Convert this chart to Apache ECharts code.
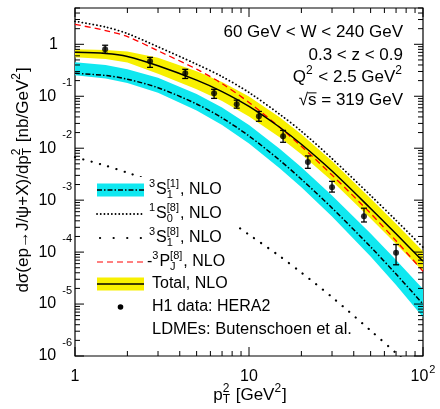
<!DOCTYPE html>
<html>
<head>
<meta charset="utf-8">
<script src="https://cdn.jsdelivr.net/npm/echarts@6.0.0/dist/echarts.min.js"></script>
<style>
html, body { margin: 0; padding: 0; background: #fff; }
#chart { width: 440px; height: 409px; }
</style>
</head>
<body>
<div id="chart"></div>
<script>
const FONT = '"Liberation Sans", Arial, sans-serif';

// pT^2 points the curves were read at [GeV^2]
const pt2 = [1, 1.5, 2, 3, 5, 7, 10, 15, 20, 30, 50, 70, 100];

// 3S1[1] colour singlet, NLO (line + uncertainty band)
const s1Singlet    = [0.277, 0.251, 0.213, 0.146, 0.0711, 0.0383, 0.0172, 5.88e-3, 2.53e-3, 7.08e-4, 1.26e-4, 3.78e-5, 1.0e-5];
const s1SingletUp  = [0.451, 0.400, 0.332, 0.227, 0.111, 0.0609, 0.0279, 9.78e-3, 4.31e-3, 1.23e-3, 2.29e-4, 7.02e-5, 1.94e-5];
const s1SingletLow = [0.253, 0.220, 0.179, 0.117, 0.0533, 0.0281, 0.0123, 4.13e-3, 1.78e-3, 4.86e-4, 8.27e-5, 2.32e-5, 5.6e-6];

// colour octet pieces
const s0Octet = [2.77, 2.15, 1.61, 0.895, 0.414, 0.239, 0.118, 0.0451, 0.0212, 6.31e-3, 1.23e-3, 4.09e-4, 1.24e-4];
const s1Octet = [6.71e-3, 4.61e-3, 3.38e-3, 2.08e-3, 9.15e-4, 4.92e-4, 2.17e-4, 8.38e-5, 4.03e-5, 1.36e-5, 3.09e-6, 1.14e-6, 3.95e-7];
const pjOctet = [2.42, 1.84, 1.41, 0.750, 0.332, 0.175, 0.076, 0.0253, 0.0109, 3.04e-3, 5.55e-4, 1.65e-4, 4.27e-5]; // minus sign

// total NLO + band
const total    = [0.702, 0.665, 0.583, 0.386, 0.204, 0.123, 0.0636, 0.0253, 0.0119, 3.63e-3, 6.92e-4, 2.25e-4, 6.65e-5];
const totalUp  = [0.801, 0.777, 0.727, 0.550, 0.304, 0.188, 0.0991, 0.0395, 0.0186, 5.65e-3, 1.08e-3, 3.50e-4, 1.04e-4];
const totalLow = [0.562, 0.522, 0.447, 0.271, 0.137, 0.0808, 0.0409, 0.0163, 7.67e-3, 2.33e-3, 4.45e-4, 1.44e-4, 4.27e-5];

// H1 data, HERA2
const h1X   = [1.49, 2.7, 4.3, 6.3, 8.5, 11.4, 15.7, 21.8, 30, 45.8, 70];
const h1Y   = [0.80, 0.47, 0.277, 0.114, 0.070, 0.041, 0.0169, 5.4e-3, 1.78e-3, 4.9e-4, 9.7e-5];
const h1Up  = [0.96, 0.56, 0.33, 0.136, 0.084, 0.051, 0.022, 7.1e-3, 2.3e-3, 7.0e-4, 1.4e-4];
const h1Low = [0.67, 0.36, 0.22, 0.091, 0.059, 0.033, 0.013, 4.1e-3, 1.43e-3, 3.8e-4, 5.7e-5];

// axis ranges
const xRange = [1, 100];
const yRange = [1e-6, 5];

// log tick marks: [value, isMajor]
function decadeTicks(e0, e1, top) {
	let out = [];
	for (let e = e0; e <= e1; e++) {
		for (let m = 1; m <= 9; m++) {
			let v = m * Math.pow(10, e);
			if (v > top) break;
			out.push([v, m === 1 ? 1 : 0]);
		}
	}
	return out;
}
const xTicks = decadeTicks(0, 2, 100);
const yTicks = decadeTicks(-6, 0, 5);

const chart = echarts.init(document.getElementById('chart'));

// --- little latex-ish text builder for graphic labels
const meas = document.createElement('canvas').getContext('2d');
function textWidth(t, size) {
	meas.font = size + 'px ' + FONT;
	return meas.measureText(t).width;
}

function latex(parts, size) {
	let small = Math.round(size * 0.7);
	let kids = [];
	let x = 0;
	let put = (t, sz, dy) => {
		kids.push({type: 'text', x: x, y: dy, z: 101,
			style: {text: t, fontSize: sz, fontFamily: FONT, fill: '#000', verticalAlign: 'middle'}});
		return textWidth(t, sz);
	};
	for (let p of parts) {
		if (typeof p === 'string') { x += put(p, size, 0); continue; }
		if (p.over) {
			let w = put(p.over, size, 0);
			kids.push({type: 'line', z: 101, shape: {x1: x, y1: -size * 0.42, x2: x + w, y2: -size * 0.42},
				style: {stroke: '#000', lineWidth: 1}});
			x += w;
			continue;
		}
		let w = 0;
		if (p.sup) w = Math.max(w, put(p.sup, small, -size * 0.38));
		if (p.sub) w = Math.max(w, put(p.sub, small, size * 0.3));
		x += w + 1;
	}
	return {kids, width: x};
}

function textGroup(parts, size, x, y, align, rotation) {
	let t = latex(parts, size);
	let off = align === 'right' ? -t.width : align === 'center' ? -t.width / 2 : 0;
	for (let k of t.kids) {
		if (k.type === 'text') k.x += off;
		else { k.shape.x1 += off; k.shape.x2 += off; }
	}
	return {type: 'group', x: x, y: y, rotation: rotation || 0, children: t.kids};
}

// --- series helpers
function pairs(xs, ys) {
	return xs.map((x, i) => [x, ys[i]]);
}

function bandSeries(up, low, color) {
	return {
		type: 'custom', clip: true, silent: true, z: 1,
		data: pairs(pt2, up),
		renderItem: (params, api) => {
			if (params.dataIndex > 0) return null;
			let pts = pt2.map((x, i) => api.coord([x, up[i]]))
				.concat(pt2.map((x, i) => api.coord([x, low[i]])).reverse());
			return {type: 'polygon', shape: {points: pts}, style: {fill: color}};
		}
	};
}

function curve(ys, color, type, width, cap) {
	return {
		type: 'line', data: pairs(pt2, ys), symbol: 'none', smooth: 0.3,
		silent: true, z: 3,
		lineStyle: {color: color, type: type, width: width, cap: cap || 'butt'}
	};
}

function tickSeries(ticks, isX) {
	return {
		type: 'custom', silent: true, z: 5, clip: false,
		data: ticks.map(t => isX ? [t[0], 1, t[1]] : [1, t[0], t[1]]),
		encode: {x: 0, y: 1},
		renderItem: (params, api) => {
			let cs = params.coordSys;
			let len = api.value(2) ? 9 : 5;
			let st = {stroke: '#000', lineWidth: 1};
			if (isX) {
				let x = api.coord([api.value(0), 1])[0];
				return {type: 'group', children: [
					{type: 'line', shape: {x1: x, y1: cs.y + cs.height, x2: x, y2: cs.y + cs.height - len}, style: st},
					{type: 'line', shape: {x1: x, y1: cs.y, x2: x, y2: cs.y + len}, style: st}
				]};
			}
			let y = api.coord([1, api.value(1)])[1];
			return {type: 'group', children: [
				{type: 'line', shape: {x1: cs.x, y1: y, x2: cs.x + len, y2: y}, style: st},
				{type: 'line', shape: {x1: cs.x + cs.width, y1: y, x2: cs.x + cs.width - len, y2: y}, style: st}
			]};
		}
	};
}

function expOf(v) {
	return Math.round(Math.log10(v));
}

// --- legend (drawn by hand, ROOT style box)
const LX0 = 97, LX1 = 144, TX = 149;
const legendRows = [190, 214, 238, 262, 284, 307, 329];
let legend = [
	{type: 'rect', z: 100, shape: {x: 92, y: 177, width: 145, height: 163}, style: {fill: '#fff'}},
	{type: 'rect', z: 101, shape: {x: LX0, y: legendRows[0] - 6.5, width: LX1 - LX0, height: 13}, style: {fill: '#10e8f0'}},
	{type: 'line', z: 102, shape: {x1: LX0, y1: legendRows[0], x2: LX1, y2: legendRows[0]}, style: {stroke: '#000', lineWidth: 1.5, lineDash: [5, 2, 1.5, 2]}},
	{type: 'line', z: 101, shape: {x1: LX0, y1: legendRows[1], x2: LX1, y2: legendRows[1]}, style: {stroke: '#000', lineWidth: 1.8, lineDash: [0.1, 3.6], lineCap: 'round'}},
	{type: 'line', z: 101, shape: {x1: LX0 + 3, y1: legendRows[2], x2: LX1, y2: legendRows[2]}, style: {stroke: '#000', lineWidth: 2.2, lineDash: [0.1, 13.5], lineCap: 'round'}},
	{type: 'line', z: 101, shape: {x1: LX0, y1: legendRows[3], x2: LX1, y2: legendRows[3]}, style: {stroke: '#ff0000', lineWidth: 1.2, lineDash: [6, 4]}},
	{type: 'rect', z: 101, shape: {x: LX0, y: legendRows[4] - 6.5, width: LX1 - LX0, height: 13}, style: {fill: '#f8f000'}},
	{type: 'line', z: 102, shape: {x1: LX0, y1: legendRows[4], x2: LX1, y2: legendRows[4]}, style: {stroke: '#000', lineWidth: 1.6}},
	{type: 'circle', z: 101, shape: {cx: (LX0 + LX1) / 2, cy: legendRows[5], r: 2.8}, style: {fill: '#000'}},
	textGroup([{sup: '3'}, 'S', {sup: '[1]', sub: '1'}, ', NLO'], 16, TX, legendRows[0]),
	textGroup([{sup: '1'}, 'S', {sup: '[8]', sub: '0'}, ', NLO'], 16, TX, legendRows[1]),
	textGroup([{sup: '3'}, 'S', {sup: '[8]', sub: '1'}, ', NLO'], 16, TX, legendRows[2]),
	textGroup(['-', {sup: '3'}, 'P', {sup: '[8]', sub: 'J'}, ', NLO'], 16, TX - 2, legendRows[3]),
	textGroup(['Total, NLO'], 16, TX + 3, legendRows[4]),
	textGroup(['H1 data: HERA2'], 16, TX + 3, legendRows[5]),
	textGroup(['LDMEs: Butenschoen et al.'], 16.5, TX + 3, legendRows[6])
];

// kinematic range + axis titles
let notes = [
	textGroup(['60 GeV < W < 240 GeV'], 17, 403, 32, 'right'),
	textGroup(['0.3 < z < 0.9'], 17, 403, 55, 'right'),
	textGroup(['Q', {sup: '2'}, ' < 2.5 GeV', {sup: '2'}], 17, 403, 77, 'right'),
	textGroup(['\u221A', {over: 's'}, ' = 319 GeV'], 17, 403, 100, 'right'),
	textGroup(['d\u03C3(ep\u2192J/\u03C8+X)/dp', {sup: '2', sub: 'T'}, ' [nb/GeV', {sup: '2'}, ']'], 17, 23, 180, 'center', Math.PI / 2),
	textGroup(['p', {sup: '2', sub: 'T'}, ' [GeV', {sup: '2'}, ']'], 17, 250, 395, 'center')
];

const option = {
	animation: false,
	backgroundColor: '#fff',
	grid: {
		left: 75, right: 17, top: 8, bottom: 53,
		show: true, borderColor: '#000', borderWidth: 1.2, backgroundColor: 'transparent',
		containLabel: false, outerBoundsMode: 'none'
	},
	xAxis: {
		type: 'log', logBase: 10, min: xRange[0], max: xRange[1],
		axisLine: {show: false}, axisTick: {show: false}, splitLine: {show: false},
		axisLabel: {
			margin: 1, color: '#000',
			formatter: v => {
				let e = expOf(v);
				if (e === 0) return '{n|1}';
				if (e === 1) return '{n|10}';
				return '{n|10}{e|' + e + '}';
			},
			rich: {
				n: {fontSize: 16, fontFamily: FONT, color: '#000', lineHeight: 40},
				e: {fontSize: 11, fontFamily: FONT, color: '#000', padding: [0, 0, 14, 1]}
			}
		}
	},
	yAxis: {
		type: 'log', logBase: 10, min: yRange[0], max: yRange[1],
		axisLine: {show: false}, axisTick: {show: false}, splitLine: {show: false},
		axisLabel: {
			margin: 3, color: '#000', showMaxLabel: false,
			formatter: v => {
				let e = expOf(v);
				if (e === 0) return '{one|1}';
				return '{n|10}{e|' + e + '}';
			},
			rich: {
				n: {fontSize: 16, fontFamily: FONT, color: '#000'},
				one: {fontSize: 16, fontFamily: FONT, color: '#000', padding: [0, 14, 0, 0]},
				e: {fontSize: 11, fontFamily: FONT, color: '#000', padding: [0, 0, 26, 6]}
			}
		}
	},
	series: [
		bandSeries(s1SingletUp, s1SingletLow, '#10e8f0'),
		bandSeries(totalUp, totalLow, '#f8f000'),
		curve(s1Singlet, '#000', [5, 2, 1.5, 2], 1.5),
		curve(s0Octet, '#000', [0.1, 3.6], 1.8, 'round'),
		curve(s1Octet, '#000', [0.1, 8.5], 2.2, 'round'),
		curve(pjOctet, '#ff0000', [6, 4], 1.3),
		curve(total, '#000', 'solid', 1.5),
		{
			type: 'custom', silent: true, z: 4,
			data: h1X.map((x, i) => [x, h1Low[i], h1Up[i]]),
			encode: {x: 0, y: [1, 2]},
			renderItem: (params, api) => {
				let lo = api.coord([api.value(0), api.value(1)]);
				let hi = api.coord([api.value(0), api.value(2)]);
				let st = {stroke: '#000', lineWidth: 1.3};
				return {type: 'group', children: [
					{type: 'line', shape: {x1: lo[0], y1: lo[1], x2: hi[0], y2: hi[1]}, style: st},
					{type: 'line', shape: {x1: lo[0] - 3, y1: lo[1], x2: lo[0] + 3, y2: lo[1]}, style: st},
					{type: 'line', shape: {x1: hi[0] - 3, y1: hi[1], x2: hi[0] + 3, y2: hi[1]}, style: st}
				]};
			}
		},
		{
			type: 'scatter', silent: true, z: 4,
			data: pairs(h1X, h1Y), symbol: 'circle', symbolSize: 6,
			itemStyle: {color: '#000'}
		},
		tickSeries(xTicks, true),
		tickSeries(yTicks, false)
	],
	graphic: {elements: legend.concat(notes)}
};

chart.setOption(option);
</script>
</body>
</html>
